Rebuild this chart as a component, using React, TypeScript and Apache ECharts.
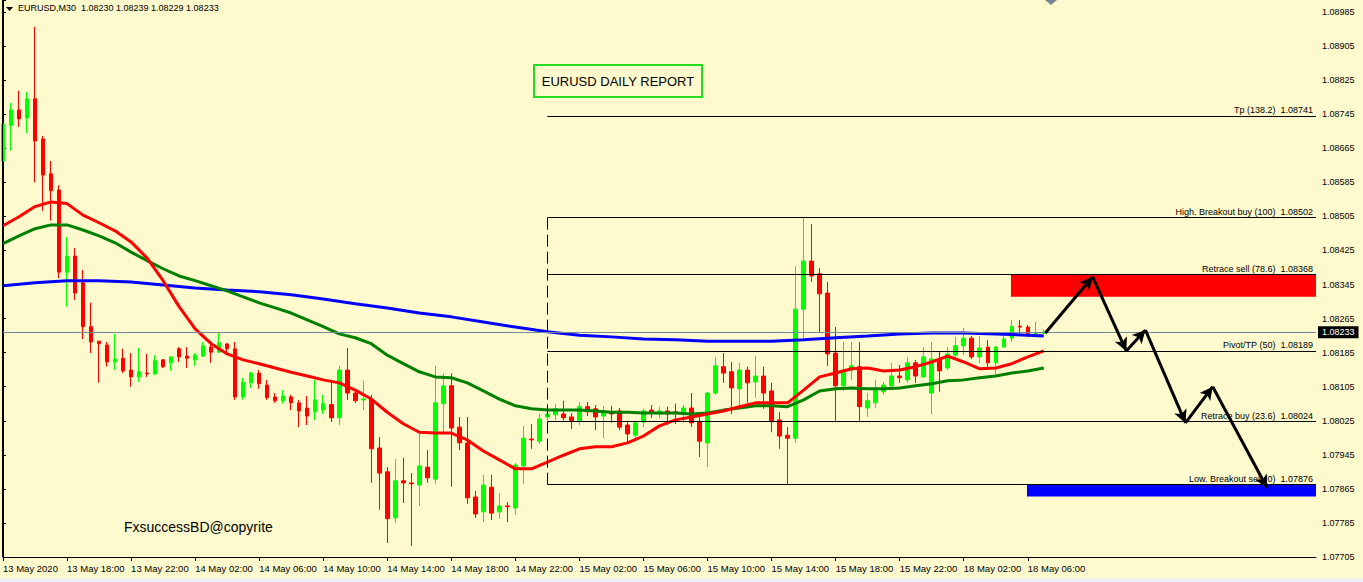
import React, { useEffect, useRef } from "react";
import * as echarts from "echarts";

const BASE = 1.07705;
const Y_MAX_PRICE = 1.090132;
const Y_STEP = 0.0008;
const SLOT_COUNT = 165;
const TICK_STEP = 8;
const LAST_LABELLED = 128;

const xTickLabels = [
  "13 May 2020", "13 May 18:00", "13 May 22:00", "14 May 02:00", "14 May 06:00",
  "14 May 10:00", "14 May 14:00", "14 May 18:00", "14 May 22:00", "15 May 02:00",
  "15 May 06:00", "15 May 10:00", "15 May 14:00", "15 May 18:00", "15 May 22:00",
  "18 May 02:00", "18 May 06:00",
];

const openP = [
  1.08635, 1.08719, 1.08755, 1.08736, 1.08781, 1.08687, 1.08605, 1.08567, 1.08374, 1.08412,
  1.08349, 1.08246, 1.08212, 1.08203, 1.08163, 1.08172, 1.08144, 1.08128, 1.08137, 1.08135,
  1.08168, 1.08161, 1.08194, 1.08177, 1.08168, 1.08177, 1.08198, 1.08186, 1.08205, 1.08194,
  1.08081, 1.08114, 1.08137, 1.08109, 1.08081, 1.08072, 1.08081, 1.08067, 1.08055, 1.08046,
  1.08050, 1.08063, 1.08032, 1.08144, 1.08090, 1.08074, 1.08076, 1.07961, 1.07905, 1.07797,
  1.07884, 1.07879, 1.07874, 1.07916, 1.07888, 1.08065, 1.08107, 1.08010, 1.07973, 1.07846,
  1.07811, 1.07869, 1.07811, 1.07825, 1.07820, 1.07919, 1.07982, 1.07977, 1.08034, 1.08039,
  1.08041, 1.08034, 1.08025, 1.08058, 1.08053, 1.08036, 1.08043, 1.08048, 1.08015, 1.07991,
  1.08022, 1.08050, 1.08041, 1.08048, 1.08046, 1.08043, 1.08055, 1.08022, 1.07973, 1.08090,
  1.08152, 1.08140, 1.08100, 1.08144, 1.08116, 1.08130, 1.08095, 1.08027, 1.07991, 1.07984,
  1.08287, 1.08400, 1.08370, 1.08325, 1.08184, 1.08107, 1.08144, 1.08152, 1.08055, 1.08067,
  1.08093, 1.08107, 1.08130, 1.08121, 1.08161, 1.08128, 1.08090, 1.08170, 1.08149, 1.08179,
  1.08201, 1.08219, 1.08175, 1.08198, 1.08161, 1.08198, 1.08219, 1.08247, 1.08245, 1.08229,
  1.08230,
];
const highP = [
  1.08743, 1.08771, 1.08800, 1.08797, 1.08950, 1.08694, 1.08635, 1.08578, 1.08457, 1.08431,
  1.08379, 1.08302, 1.08212, 1.08210, 1.08229, 1.08194, 1.08184, 1.08196, 1.08182, 1.08179,
  1.08170, 1.08177, 1.08198, 1.08198, 1.08184, 1.08210, 1.08208, 1.08231, 1.08208, 1.08210,
  1.08126, 1.08140, 1.08144, 1.08121, 1.08090, 1.08097, 1.08086, 1.08074, 1.08083, 1.08121,
  1.08086, 1.08121, 1.08154, 1.08196, 1.08097, 1.08119, 1.08086, 1.07987, 1.07916, 1.07935,
  1.07938, 1.07902, 1.07996, 1.07956, 1.08154, 1.08137, 1.08137, 1.08034, 1.08034, 1.07860,
  1.07898, 1.07898, 1.07855, 1.07834, 1.07926, 1.08013, 1.08017, 1.08041, 1.08065, 1.08065,
  1.08072, 1.08043, 1.08069, 1.08069, 1.08062, 1.08060, 1.08060, 1.08055, 1.08025, 1.08025,
  1.08053, 1.08062, 1.08058, 1.08058, 1.08065, 1.08062, 1.08090, 1.08046, 1.08093, 1.08175,
  1.08184, 1.08163, 1.08161, 1.08152, 1.08177, 1.08152, 1.08114, 1.08046, 1.08010, 1.08388,
  1.08502, 1.08487, 1.08384, 1.08351, 1.08245, 1.08210, 1.08210, 1.08210, 1.08090, 1.08121,
  1.08116, 1.08161, 1.08156, 1.08175, 1.08168, 1.08198, 1.08210, 1.08187, 1.08198, 1.08222,
  1.08243, 1.08224, 1.08224, 1.08215, 1.08201, 1.08226, 1.08262, 1.08262, 1.08250, 1.08257,
  1.08239,
];
const lowP = [
  1.08588, 1.08659, 1.08715, 1.08701, 1.08585, 1.08518, 1.08495, 1.08360, 1.08293, 1.08309,
  1.08217, 1.08184, 1.08114, 1.08152, 1.08144, 1.08137, 1.08105, 1.08116, 1.08128, 1.08132,
  1.08149, 1.08142, 1.08163, 1.08149, 1.08154, 1.08175, 1.08161, 1.08184, 1.08184, 1.08074,
  1.08074, 1.08102, 1.08100, 1.08074, 1.08067, 1.08065, 1.08050, 1.08010, 1.08015, 1.08027,
  1.08041, 1.08022, 1.08015, 1.08074, 1.08067, 1.08050, 1.07879, 1.07816, 1.07738, 1.07785,
  1.07832, 1.07731, 1.07825, 1.07879, 1.07877, 1.07998, 1.07870, 1.07956, 1.07830, 1.07797,
  1.07787, 1.07792, 1.07795, 1.07787, 1.07804, 1.07877, 1.07959, 1.07970, 1.08025, 1.08025,
  1.08025, 1.08006, 1.08015, 1.08036, 1.08003, 1.07984, 1.08020, 1.08003, 1.07975, 1.07982,
  1.08010, 1.08032, 1.08032, 1.08015, 1.08017, 1.08020, 1.08010, 1.07940, 1.07916, 1.08086,
  1.08114, 1.08041, 1.08058, 1.08067, 1.08079, 1.08053, 1.07998, 1.07959, 1.07876, 1.07973,
  1.08217, 1.08351, 1.08231, 1.08154, 1.08025, 1.08095, 1.08121, 1.08025, 1.08034, 1.08055,
  1.08086, 1.08097, 1.08114, 1.08114, 1.08114, 1.08126, 1.08041, 1.08093, 1.08144, 1.08168,
  1.08179, 1.08170, 1.08161, 1.08152, 1.08133, 1.08196, 1.08210, 1.08226, 1.08222, 1.08226,
  1.08229,
];
const closeP = [
  1.08722, 1.08755, 1.08734, 1.08781, 1.08682, 1.08602, 1.08565, 1.08374, 1.08412, 1.08325,
  1.08246, 1.08210, 1.08206, 1.08163, 1.08170, 1.08142, 1.08128, 1.08140, 1.08135, 1.08166,
  1.08152, 1.08175, 1.08175, 1.08172, 1.08179, 1.08201, 1.08186, 1.08208, 1.08194, 1.08081,
  1.08116, 1.08137, 1.08112, 1.08079, 1.08072, 1.08083, 1.08067, 1.08048, 1.08036, 1.08074,
  1.08065, 1.08032, 1.08144, 1.08090, 1.08072, 1.08076, 1.07959, 1.07902, 1.07795, 1.07884,
  1.07879, 1.07877, 1.07919, 1.07891, 1.08067, 1.08107, 1.08008, 1.07973, 1.07844, 1.07806,
  1.07874, 1.07808, 1.07825, 1.07823, 1.07921, 1.07984, 1.07980, 1.08029, 1.08041, 1.08053,
  1.08032, 1.08025, 1.08058, 1.08046, 1.08034, 1.08048, 1.08041, 1.08010, 1.07994, 1.08020,
  1.08048, 1.08043, 1.08048, 1.08041, 1.08043, 1.08055, 1.08020, 1.07977, 1.08090, 1.08154,
  1.08137, 1.08102, 1.08144, 1.08114, 1.08130, 1.08090, 1.08025, 1.07989, 1.07984, 1.08287,
  1.08400, 1.08365, 1.08323, 1.08182, 1.08107, 1.08144, 1.08154, 1.08058, 1.08072, 1.08102,
  1.08109, 1.08130, 1.08126, 1.08161, 1.08130, 1.08175, 1.08170, 1.08142, 1.08182, 1.08201,
  1.08219, 1.08175, 1.08196, 1.08161, 1.08198, 1.08217, 1.08247, 1.08245, 1.08229, 1.08231,
  1.08233,
];

const maRedIdx = [
  0, 2, 4, 6, 8, 10, 12, 14, 16, 18, 20, 22, 24, 26, 28, 30, 32, 34, 36, 38, 40, 42, 44,
  46, 48, 50, 52, 54, 56, 58, 60, 62, 64, 66, 68, 70, 72, 74, 76, 78, 80, 82, 84, 86, 88,
  90, 92, 94, 96, 98, 100, 102, 104, 106, 108, 110, 112, 114, 116, 118, 120, 122, 124, 126,
  128, 130,
];
const maRed = [
  1.08483, 1.08504, 1.08528, 1.08539, 1.08535, 1.08508, 1.08490, 1.08471, 1.08445, 1.08407,
  1.08354, 1.08293, 1.08241, 1.08206, 1.08182, 1.08168, 1.08159, 1.08149, 1.08139, 1.08130,
  1.08121, 1.08114, 1.08097, 1.08076, 1.08045, 1.08018, 1.07998, 1.07996, 1.07996, 1.07980,
  1.07954, 1.07933, 1.07912, 1.07912, 1.07928, 1.07944, 1.07959, 1.07964, 1.07964, 1.07973,
  1.07989, 1.08013, 1.08027, 1.08034, 1.08041, 1.08048, 1.08058, 1.08067, 1.08067, 1.08067,
  1.08097, 1.08128, 1.08137, 1.08147, 1.08149, 1.08142, 1.08144, 1.08152, 1.08163, 1.08177,
  1.08163, 1.08147, 1.08149, 1.08159, 1.08175, 1.08189,
];
const maGreen = [
  1.08441, 1.08459, 1.08476, 1.08485, 1.08485, 1.08473, 1.08459, 1.08443, 1.08421, 1.08401,
  1.08382, 1.08365, 1.08354, 1.08342, 1.08330, 1.08316, 1.08302, 1.08290, 1.08278, 1.08262,
  1.08246, 1.08229, 1.08220, 1.08206, 1.08179, 1.08159, 1.08140, 1.08128, 1.08126, 1.08114,
  1.08095, 1.08076, 1.08060, 1.08053, 1.08050, 1.08050, 1.08050, 1.08048, 1.08045, 1.08045,
  1.08043, 1.08043, 1.08043, 1.08041, 1.08043, 1.08050, 1.08055, 1.08060, 1.08060, 1.08058,
  1.08074, 1.08095, 1.08100, 1.08102, 1.08100, 1.08100, 1.08102, 1.08107, 1.08112, 1.08119,
  1.08121, 1.08126, 1.08130, 1.08137, 1.08142, 1.08149,
];
const maBlueIdx = [
  0, 4, 8, 12, 16, 20, 24, 28, 32, 36, 40, 44, 48, 52, 56, 60, 64, 68, 72, 76, 80, 84, 88,
  92, 96, 100, 104, 108, 112, 116, 120, 124, 128, 130,
];
const maBlue = [
  1.08342, 1.08349, 1.08354, 1.08354, 1.08351, 1.08344, 1.08337, 1.08332, 1.08328, 1.08321,
  1.08311, 1.08300, 1.08290, 1.08278, 1.08269, 1.08257, 1.08245, 1.08234, 1.08226, 1.08222,
  1.08217, 1.08215, 1.08212, 1.08212, 1.08212, 1.08215, 1.08220, 1.08224, 1.08229, 1.08231,
  1.08231, 1.08229, 1.08226, 1.08224,
];

const fibNames = [
  "Tp (138.2)", "High. Breakout buy (100)", "Retrace sell (78.6)",
  "Pivot/TP (50)", "Retrace buy (23.6)", "Low. Breakout sell (0)",
];
const fibPrices = [1.08741, 1.08502, 1.08368, 1.08189, 1.08024, 1.07876];
const fibStartIdx = 68;
const fibEndIdx = 164;

const zoneStart = [125.9, 127.9];
const zoneTop = [1.08368, 1.07876];
const zoneBottom = [1.08316, 1.07847];
const zoneColors = ["#FF0000", "#0000FF"];

const arrowX = [130.2, 136.1, 140.3, 142.7, 147.7, 151.1, 157.9];
const arrowY = [1.08231, 1.08363, 1.08189, 1.08238, 1.0802, 1.08105, 1.07867];

const FONT = "'Liberation Sans', Arial, sans-serif";

export default function App() {
  const ref = useRef<HTMLDivElement>(null);

  useEffect(() => {
    if (!ref.current) return;
    const chart = echarts.init(ref.current, null, { renderer: "svg" });
    const rel = (p: number) => +(p - BASE).toFixed(6);
    const last = openP.length - 1;
    const categories = Array.from({ length: SLOT_COUNT }, (_, i) => String(i));
    const candleData = openP.map((o, i) => [rel(o), rel(closeP[i]), rel(lowP[i]), rel(highP[i])]);
    const showTick = (index: number) => index % TICK_STEP === 0 && index <= LAST_LABELLED;
    const lastPrice = closeP[last];
    const header =
      "EURUSD,M30  " +
      [openP[last], highP[last], lowP[last], closeP[last]].map((v) => v.toFixed(5)).join(" ");

    const fibLines = fibPrices.map((p, i) => [
      { coord: [fibStartIdx, rel(p)] },
      {
        coord: [fibEndIdx, rel(p)],
        label: {
          show: true,
          position: "insideEndTop",
          formatter: fibNames[i] + "  " + p.toFixed(5),
          color: "#000",
          fontSize: 9,
          fontFamily: FONT,
          distance: [3, 1],
        },
      },
    ]);
    const dashed = [
      { coord: [fibStartIdx, rel(fibPrices[1])], lineStyle: { type: [12, 5], color: "#000", width: 1 } },
      { coord: [fibStartIdx, rel(fibPrices[5])] },
    ];
    const priceLine = [
      { coord: [0, rel(lastPrice)], lineStyle: { color: "#778899", width: 1, type: "solid" } },
      {
        coord: [SLOT_COUNT - 1, rel(lastPrice)],
        label: {
          show: true,
          position: "end",
          formatter: lastPrice.toFixed(5),
          color: "#fff",
          backgroundColor: "#000",
          padding: [2, 4, 1, 4],
          fontSize: 9,
          fontFamily: FONT,
          distance: 2,
        },
      },
    ];

    const arrows = arrowX.slice(0, -1).map((x, i) => [
      { coord: [x, rel(arrowY[i])] },
      { coord: [arrowX[i + 1], rel(arrowY[i + 1])] },
    ]);

    const zones = zoneStart.map((x, i) => [
      { coord: [x, rel(zoneTop[i])], itemStyle: { color: zoneColors[i], opacity: 1 } },
      { coord: [fibEndIdx, rel(zoneBottom[i])] },
    ]);

    const option: any = {
      animation: false,
      backgroundColor: "#FFFACD",
      textStyle: { fontFamily: FONT },
      grid: { left: 3, right: 47, top: 0, bottom: 25, containLabel: false, outerBoundsMode: "none" },
      xAxis: [
        {
          type: "category",
          data: categories,
          boundaryGap: false,
          axisLine: { show: true, lineStyle: { color: "#000", width: 1 } },
          axisTick: { show: true, interval: showTick, length: 4, lineStyle: { color: "#000" } },
          axisLabel: {
            show: true,
            interval: showTick,
            formatter: (v: string) => xTickLabels[Number(v) / TICK_STEP] ?? "",
            align: "left",
            margin: 6,
            fontSize: 9.5,
            color: "#000",
            fontFamily: FONT,
          },
          splitLine: { show: false },
        },
        { type: "value", min: 0, max: SLOT_COUNT - 1, show: false },
      ],
      yAxis: {
        type: "value",
        position: "right",
        min: 0,
        max: +(Y_MAX_PRICE - BASE).toFixed(6),
        interval: Y_STEP,
        axisLine: { show: true, lineStyle: { color: "#000", width: 1 } },
        axisTick: { show: true, length: 3, lineStyle: { color: "#000" } },
        axisLabel: {
          margin: 6,
          fontSize: 9,
          color: "#000",
          fontFamily: FONT,
          formatter: (v: number) => {
            const r = v / Y_STEP;
            if (Math.abs(r - Math.round(r)) > 1e-3) return "";
            return (v + BASE).toFixed(5);
          },
        },
        splitLine: { show: false },
      },
      series: [
        {
          type: "line",
          xAxisIndex: 1,
          yAxisIndex: 0,
          data: [],
          z: 1,
          silent: true,
          markArea: { silent: true, data: zones },
          markLine: {
            silent: true,
            symbol: ["none", "none"],
            lineStyle: { color: "#000", width: 1, type: "solid" },
            label: { show: false },
            data: [...fibLines, dashed, priceLine],
          },
        },
        {
          type: "candlestick",
          xAxisIndex: 0,
          yAxisIndex: 0,
          data: candleData,
          barWidth: 4,
          z: 3,
          itemStyle: {
            color: "#00FF00",
            color0: "#FF0000",
            borderColor: "#00FF00",
            borderColor0: "#FF0000",
            borderWidth: 1,
          },
        },
        {
          type: "line",
          xAxisIndex: 1,
          data: maBlueIdx.map((k, i) => [k, rel(maBlue[i])]),
          showSymbol: false,
          symbol: "none",
          lineStyle: { color: "#0000FF", width: 3 },
          z: 4,
          silent: true,
        },
        {
          type: "line",
          xAxisIndex: 1,
          data: maRedIdx.map((k, i) => [k, rel(maGreen[i])]),
          showSymbol: false,
          symbol: "none",
          lineStyle: { color: "#008000", width: 3 },
          z: 4,
          silent: true,
        },
        {
          type: "line",
          xAxisIndex: 1,
          data: maRedIdx.map((k, i) => [k, rel(maRed[i])]),
          showSymbol: false,
          symbol: "none",
          lineStyle: { color: "#FF0000", width: 3 },
          z: 4,
          silent: true,
        },
        {
          type: "line",
          xAxisIndex: 1,
          data: [],
          z: 6,
          silent: true,
          markLine: {
            silent: true,
            symbol: ["none", "arrow"],
            symbolSize: [10, 13],
            lineStyle: { color: "#000", width: 3, type: "solid" },
            itemStyle: { color: "#000" },
            label: { show: false },
            data: arrows,
          },
        },
      ],
      graphic: [
        { type: "line", shape: { x1: 2.5, y1: 0, x2: 2.5, y2: 557 }, style: { stroke: "#000", lineWidth: 1 }, z: 100 },
        { type: "polygon", shape: { points: [[6, 7], [13, 7], [9.5, 11]] }, style: { fill: "#000" } },
        {
          type: "text",
          x: 18,
          y: 8,
          style: { text: header, fontSize: 9, fontFamily: FONT, fill: "#000", verticalAlign: "middle", textVerticalAlign: "middle" },
        },
        { type: "rect", shape: { x: 534, y: 65, width: 168, height: 32 }, style: { fill: "none", stroke: "#22DD22", lineWidth: 2 } },
        {
          type: "text",
          x: 618,
          y: 81,
          style: {
            text: "EURUSD DAILY REPORT",
            fontSize: 13,
            fontFamily: FONT,
            fill: "#000",
            align: "center",
            textAlign: "center",
            verticalAlign: "middle",
            textVerticalAlign: "middle",
          },
        },
        {
          type: "text",
          x: 124,
          y: 527,
          style: { text: "FxsuccessBD@copyrite", fontSize: 14, fontFamily: FONT, fill: "#000", verticalAlign: "middle", textVerticalAlign: "middle" },
        },
        { type: "polygon", shape: { points: [[1045, 0], [1057, 0], [1051, 5]] }, style: { fill: "#7B8494" } },
        { type: "rect", shape: { x: 0, y: 578, width: 1363, height: 4 }, style: { fill: "#F0F0F0" } },
      ],
    };

    chart.setOption(option);
    return () => chart.dispose();
  }, []);

  return <div ref={ref} style={{ position: "fixed", left: 0, top: 0, width: 1363, height: 582 }} />;
}
